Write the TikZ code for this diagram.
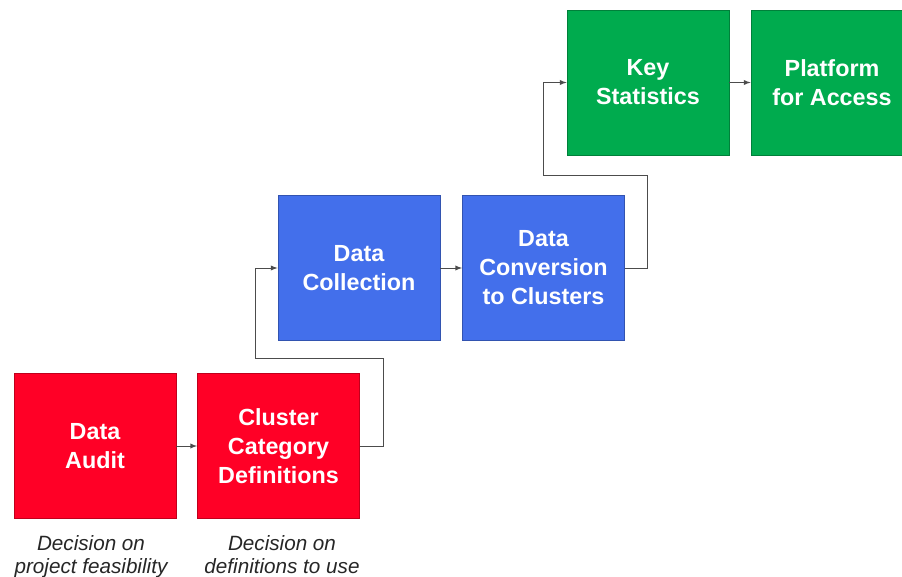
\documentclass[tikz,border=0pt]{standalone}
\usepackage{fontspec}
\setmainfont{Liberation Sans}
\setsansfont{Liberation Sans}
\usepackage{tikz}
\usetikzlibrary{arrows}

\definecolor{stepred}{RGB}{255,0,38}
\definecolor{stepblue}{RGB}{67,111,235}
\definecolor{stepgreen}{RGB}{0,171,78}

\tikzset{
    stagebox/.style={draw=#1!75!black, fill=#1, line width=0.6pt, minimum width=121.5pt,
        minimum height=108.75pt, align=center, text=white,
        font=\fontsize{17.5}{21.75}\selectfont\bfseries},
    notetext/.style={align=center, text=black!85, anchor=north, inner sep=0pt,
        font=\fontsize{15.5}{17.25}\selectfont\itshape},
    link/.style={draw=black!70, line width=0.75pt, -latex}
}

\begin{document}
\begin{tikzpicture}[x=0.75pt,y=-0.75pt]
    \useasboundingbox (0,0) rectangle (902,577);
    \clip (0,0) rectangle (902,577);
    \node[stagebox=stepred]   (audit)    at (95,446)    {Data\\Audit};
    \node[stagebox=stepred]   (cluster)  at (278.5,446) {Cluster\\Category\\Definitions};
    \node[stagebox=stepblue]  (collect)  at (359,268)   {Data\\Collection};
    \node[stagebox=stepblue]  (convert)  at (543.5,268) {Data\\Conversion\\to Clusters};
    \node[stagebox=stepgreen] (keystat)  at (648,82.5)  {Key\\Statistics};
    \node[stagebox=stepgreen] (platform) at (832,82.5)  {Platform\\for Access};
    \node[notetext] (auditnote)   at (91,535)  {Decision on\\project feasibility};
    \node[notetext] (clusternote) at (282,535) {Decision on\\definitions to use};
    % bends between the rows
    \coordinate (up1) at (383,358);
    \coordinate (in1) at (255,358);
    \coordinate (up2) at (647,176);
    \coordinate (in2) at (543,176);
    \draw[link] (audit) -- (cluster);
    \draw[link] (cluster.east) -| (up1) -- (in1) |- (collect.west);
    \draw[link] (collect) -- (convert);
    \draw[link] (convert.east) -| (up2) -- (in2) |- (keystat.west);
    \draw[link] (keystat) -- (platform);
\end{tikzpicture}
\end{document}
